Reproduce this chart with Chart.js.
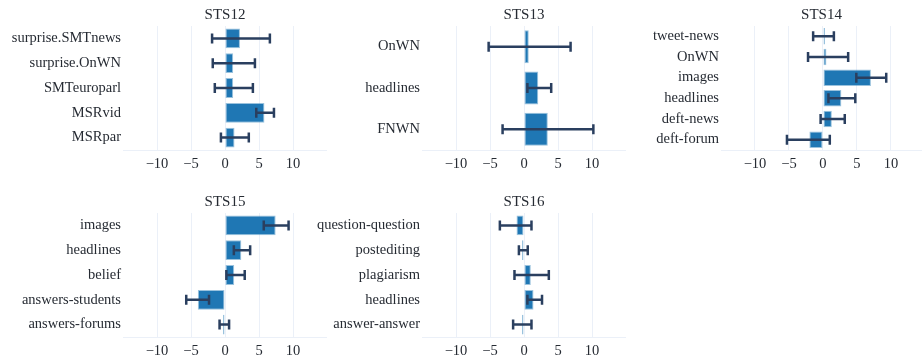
<!DOCTYPE html>
<html>
<head>
<meta charset="utf-8">
<script src="https://cdn.jsdelivr.net/npm/chart.js@4"></script>
<style>
  body { margin: 0; width: 922px; height: 362px; overflow: hidden; background: #fff; }
  .panel { position: absolute; }
</style>
</head>
<body>
<div class="panel" style="left:1px;top:0;width:326px;height:175px"><canvas id="c12"></canvas></div>
<div class="panel" style="left:300px;top:0;width:326px;height:175px"><canvas id="c13"></canvas></div>
<div class="panel" style="left:599px;top:0;width:323px;height:175px"><canvas id="c14"></canvas></div>
<div class="panel" style="left:1px;top:187px;width:326px;height:175px"><canvas id="c15"></canvas></div>
<div class="panel" style="left:300px;top:187px;width:326px;height:175px"><canvas id="c16"></canvas></div>
<script>
// tick labels shared by all panels
const tickValues = [-10, -5, 0, 5, 10];
const tickLabels = ['\u221210', '\u22125', '0', '5', '10'];

// STS12
const sts12Labels = ['surprise.SMTnews', 'surprise.OnWN', 'SMTeuroparl', 'MSRvid', 'MSRpar'];
const sts12Mean = [2.2, 1.2, 1.2, 5.8, 1.4];
const sts12Low = [-1.9, -1.8, -1.5, 4.6, -0.6];
const sts12High = [6.6, 4.4, 4.1, 7.2, 3.5];

// STS13
const sts13Labels = ['OnWN', 'headlines', 'FNWN'];
const sts13Mean = [0.7, 2.1, 3.5];
const sts13Low = [-5.2, 0.5, -3.15];
const sts13High = [6.85, 4.0, 10.2];

// STS14
const sts14Labels = ['tweet-news', 'OnWN', 'images', 'headlines', 'deft-news', 'deft-forum'];
const sts14Mean = [0.05, 0.5, 7.05, 2.7, 1.3, -2.0];
const sts14Low = [-1.45, -2.2, 4.9, 0.8, -0.35, -5.3];
const sts14High = [1.6, 3.7, 9.3, 4.75, 3.2, 1.0];

// STS15
const sts15Labels = ['images', 'headlines', 'belief', 'answers-students', 'answers-forums'];
const sts15Mean = [7.45, 2.4, 1.35, -4.0, -0.15];
const sts15Low = [5.7, 1.3, 0.2, -5.7, -0.8];
const sts15High = [9.35, 3.7, 2.9, -2.35, 0.6];

// STS16
const sts16Labels = ['question-question', 'postediting', 'plagiarism', 'headlines', 'answer-answer'];
const sts16Mean = [-1.1, -0.1, 1.0, 1.4, -0.05];
const sts16Low = [-3.55, -0.75, -1.4, 0.5, -1.6];
const sts16High = [1.1, 0.55, 3.65, 2.65, 1.1];

const FONT = 'Liberation Serif';
const TEXT = '#262b33';
const GRID = '#ebf0f8';

// draws the confidence interval whiskers on top of the bars
const errorBars = {
  id: 'errorBars',
  afterDatasetsDraw(chart, args, opts) {
    const ctx = chart.ctx;
    const x = chart.scales.x;
    const meta = chart.getDatasetMeta(0);
    ctx.save();
    ctx.strokeStyle = '#2a3f5f';
    ctx.lineWidth = 2.5;
    meta.data.forEach((bar, i) => {
      const x0 = x.getPixelForValue(opts.low[i]);
      const x1 = x.getPixelForValue(opts.high[i]);
      const y = bar.y;
      ctx.beginPath();
      ctx.moveTo(x0, y); ctx.lineTo(x1, y);
      ctx.moveTo(x0, y - 5); ctx.lineTo(x0, y + 5);
      ctx.moveTo(x1, y - 5); ctx.lineTo(x1, y + 5);
      ctx.stroke();
    });
    ctx.restore();
  }
};

// title centred over the plot area rather than the whole canvas
const panelTitle = {
  id: 'panelTitle',
  afterDraw(chart, args, opts) {
    const {ctx, chartArea} = chart;
    ctx.save();
    ctx.font = '15px "' + FONT + '"';
    ctx.fillStyle = TEXT;
    ctx.textAlign = 'center';
    ctx.textBaseline = 'middle';
    ctx.fillText(opts.text, (chartArea.left + chartArea.right) / 2, 15.5);
    ctx.restore();
  }
};

function makePanel(id, title, labels, mean, low, high, xMax) {
  return new Chart(document.getElementById(id), {
    type: 'bar',
    data: {
      labels: labels,
      datasets: [{
        data: mean,
        backgroundColor: '#1f77b4',
        borderColor: 'rgba(31,119,180,0.45)',
        borderWidth: 1,
        borderSkipped: false,
        minBarLength: 2,
        barPercentage: 0.8,
        categoryPercentage: 1
      }]
    },
    options: {
      indexAxis: 'y',
      responsive: true,
      maintainAspectRatio: false,
      animation: false,
      layout: { padding: { top: 26, left: 0, right: 0, bottom: 0 } },
      plugins: {
        legend: { display: false },
        tooltip: { enabled: false },
        errorBars: { low: low, high: high },
        panelTitle: { text: title }
      },
      scales: {
        x: {
          min: -15,
          max: xMax,
          afterBuildTicks: s => { s.ticks = tickValues.map(v => ({ value: v })); },
          afterFit: s => { s.height = 25; },
          grid: { color: GRID, lineWidth: 1, drawTicks: false },
          border: { display: true, color: GRID, width: 1 },
          ticks: {
            padding: 5,
            color: TEXT,
            font: { family: FONT, size: 14.5 },
            callback: v => tickLabels[tickValues.indexOf(v)]
          }
        },
        y: {
          afterFit: s => { s.width = 122; },
          grid: { display: false, drawTicks: false },
          border: { display: false },
          ticks: {
            padding: 2,
            color: TEXT,
            font: { family: FONT, size: 14.5 }
          }
        }
      }
    },
    plugins: [errorBars, panelTitle]
  });
}

makePanel('c12', 'STS12', sts12Labels, sts12Mean, sts12Low, sts12High, 15);
makePanel('c13', 'STS13', sts13Labels, sts13Mean, sts13Low, sts13High, 15);
makePanel('c14', 'STS14', sts14Labels, sts14Mean, sts14Low, sts14High, 14.56);
makePanel('c15', 'STS15', sts15Labels, sts15Mean, sts15Low, sts15High, 15);
makePanel('c16', 'STS16', sts16Labels, sts16Mean, sts16Low, sts16High, 15);
</script>
</body>
</html>
